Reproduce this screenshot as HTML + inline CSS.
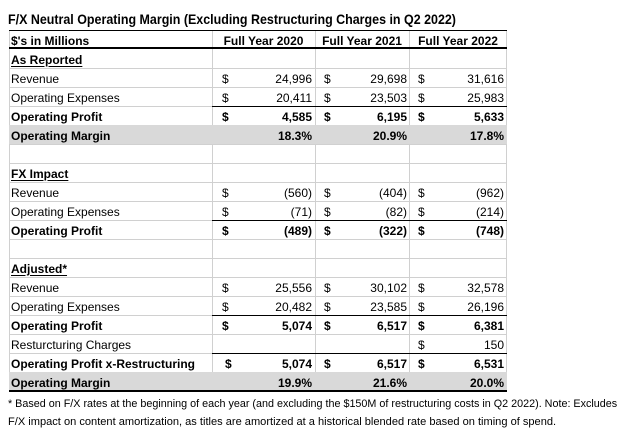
<!DOCTYPE html>
<html>
<head>
<meta charset="utf-8">
<style>
  html,body{margin:0;padding:0;}
  body{width:628px;height:442px;background:#fff;position:relative;overflow:hidden;
       font-family:"Liberation Sans",Arial,sans-serif;color:#000;}
  .a{position:absolute;}
  .t{position:absolute;font-size:12px;line-height:19px;white-space:nowrap;}
  .b{font-weight:bold;}
  .u{text-decoration:underline;text-underline-offset:2px;}
  .hl{position:absolute;left:9px;width:498px;height:1px;background:#d0d0d0;}
  .vl{position:absolute;top:30px;width:1px;height:361px;background:#d0d0d0;}
  .gray{position:absolute;left:9px;width:498px;height:19px;background:#d9d9d9;}
  .blk{position:absolute;left:212px;width:295px;height:1px;background:#000;}
  .r1{right:316px;text-align:right;}
  .r2{right:221px;text-align:right;}
  .r3{right:124px;text-align:right;}
  .d1{left:222px;} .d2{left:324px;} .d3{left:418px;}
</style>
</head>
<body>

<!-- Title -->
<div class="a b" style="left:8px;top:11px;font-size:14px;line-height:16px;white-space:nowrap;transform:scaleX(0.89);transform-origin:0 0;">F/X Neutral Operating Margin (Excluding Restructuring Charges in Q2 2022)</div>

<!-- gridlines horizontal -->
<div class="hl" style="top:68px"></div>
<div class="hl" style="top:87px"></div>
<div class="hl" style="top:106px"></div>
<div class="hl" style="top:125px"></div>
<div class="hl" style="top:144px"></div>
<div class="hl" style="top:163px"></div>
<div class="hl" style="top:182px"></div>
<div class="hl" style="top:201px"></div>
<div class="hl" style="top:220px"></div>
<div class="hl" style="top:239px"></div>
<div class="hl" style="top:258px"></div>
<div class="hl" style="top:277px"></div>
<div class="hl" style="top:296px"></div>
<div class="hl" style="top:315px"></div>
<div class="hl" style="top:334px"></div>
<div class="hl" style="top:353px"></div>
<div class="hl" style="top:372px"></div>

<!-- gridlines vertical -->
<div class="vl" style="left:9px"></div>
<div class="vl" style="left:212px"></div>
<div class="vl" style="left:315px"></div>
<div class="vl" style="left:409px"></div>
<div class="vl" style="left:506px"></div>

<!-- gray rows -->
<div class="gray" style="top:125px"></div>
<div class="gray" style="top:372px"></div>

<!-- black lines -->
<div class="a" style="left:9px;top:30px;width:498px;height:1px;background:#000"></div>
<div class="a" style="left:9px;top:47px;width:498px;height:2px;background:#000"></div>
<div class="blk" style="top:106px"></div>
<div class="blk" style="top:220px"></div>
<div class="blk" style="top:315px"></div>
<div class="blk" style="top:353px"></div>
<div class="a" style="left:9px;top:390px;width:498px;height:2px;background:#000"></div>

<!-- Header -->
<div class="t b" style="left:11px;top:31.7px">$'s in Millions</div>
<div class="t b" style="left:212px;width:103px;text-align:center;top:31.7px">Full Year 2020</div>
<div class="t b" style="left:315px;width:94px;text-align:center;top:31.7px">Full Year 2021</div>
<div class="t b" style="left:409px;width:98px;text-align:center;top:31.7px">Full Year 2022</div>

<!-- As Reported -->
<div class="t b u" style="left:11px;top:50.7px">As Reported</div>

<div class="t" style="left:11px;top:69.7px">Revenue</div>
<div class="t d1" style="top:69.7px">$</div><div class="t r1" style="top:69.7px">24,996</div>
<div class="t d2" style="top:69.7px">$</div><div class="t r2" style="top:69.7px">29,698</div>
<div class="t d3" style="top:69.7px">$</div><div class="t r3" style="top:69.7px">31,616</div>

<div class="t" style="left:11px;top:88.7px">Operating Expenses</div>
<div class="t d1" style="top:88.7px">$</div><div class="t r1" style="top:88.7px">20,411</div>
<div class="t d2" style="top:88.7px">$</div><div class="t r2" style="top:88.7px">23,503</div>
<div class="t d3" style="top:88.7px">$</div><div class="t r3" style="top:88.7px">25,983</div>

<div class="t b" style="left:11px;top:107.7px">Operating Profit</div>
<div class="t b d1" style="top:107.7px">$</div><div class="t b r1" style="top:107.7px">4,585</div>
<div class="t b d2" style="top:107.7px">$</div><div class="t b r2" style="top:107.7px">6,195</div>
<div class="t b d3" style="top:107.7px">$</div><div class="t b r3" style="top:107.7px">5,633</div>

<div class="t b" style="left:11px;top:126.7px">Operating Margin</div>
<div class="t b r1" style="top:126.7px">18.3%</div>
<div class="t b r2" style="top:126.7px">20.9%</div>
<div class="t b r3" style="top:126.7px">17.8%</div>

<!-- FX Impact -->
<div class="t b u" style="left:11px;top:164.7px">FX Impact</div>

<div class="t" style="left:11px;top:183.7px">Revenue</div>
<div class="t d1" style="top:183.7px">$</div><div class="t r1" style="top:183.7px">(560)</div>
<div class="t d2" style="top:183.7px">$</div><div class="t r2" style="top:183.7px">(404)</div>
<div class="t d3" style="top:183.7px">$</div><div class="t r3" style="top:183.7px">(962)</div>

<div class="t" style="left:11px;top:202.7px">Operating Expenses</div>
<div class="t d1" style="top:202.7px">$</div><div class="t r1" style="top:202.7px">(71)</div>
<div class="t d2" style="top:202.7px">$</div><div class="t r2" style="top:202.7px">(82)</div>
<div class="t d3" style="top:202.7px">$</div><div class="t r3" style="top:202.7px">(214)</div>

<div class="t b" style="left:11px;top:221.7px">Operating Profit</div>
<div class="t b d1" style="top:221.7px">$</div><div class="t b r1" style="top:221.7px">(489)</div>
<div class="t b d2" style="top:221.7px">$</div><div class="t b r2" style="top:221.7px">(322)</div>
<div class="t b d3" style="top:221.7px">$</div><div class="t b r3" style="top:221.7px">(748)</div>

<!-- Adjusted -->
<div class="t b u" style="left:11px;top:259.7px">Adjusted*</div>

<div class="t" style="left:11px;top:278.7px">Revenue</div>
<div class="t d1" style="top:278.7px">$</div><div class="t r1" style="top:278.7px">25,556</div>
<div class="t d2" style="top:278.7px">$</div><div class="t r2" style="top:278.7px">30,102</div>
<div class="t d3" style="top:278.7px">$</div><div class="t r3" style="top:278.7px">32,578</div>

<div class="t" style="left:11px;top:297.7px">Operating Expenses</div>
<div class="t d1" style="top:297.7px">$</div><div class="t r1" style="top:297.7px">20,482</div>
<div class="t d2" style="top:297.7px">$</div><div class="t r2" style="top:297.7px">23,585</div>
<div class="t d3" style="top:297.7px">$</div><div class="t r3" style="top:297.7px">26,196</div>

<div class="t b" style="left:11px;top:316.7px">Operating Profit</div>
<div class="t b d1" style="top:316.7px">$</div><div class="t b r1" style="top:316.7px">5,074</div>
<div class="t b d2" style="top:316.7px">$</div><div class="t b r2" style="top:316.7px">6,517</div>
<div class="t b d3" style="top:316.7px">$</div><div class="t b r3" style="top:316.7px">6,381</div>

<div class="t" style="left:11px;top:335.7px">Resturcturing Charges</div>
<div class="t d3" style="top:335.7px">$</div><div class="t r3" style="top:335.7px">150</div>

<div class="t b" style="left:11px;top:354.7px">Operating Profit x-Restructuring</div>
<div class="t b" style="left:225px;top:354.7px">$</div><div class="t b r1" style="top:354.7px">5,074</div>
<div class="t b d2" style="top:354.7px">$</div><div class="t b r2" style="top:354.7px">6,517</div>
<div class="t b d3" style="top:354.7px">$</div><div class="t b r3" style="top:354.7px">6,531</div>

<div class="t b" style="left:11px;top:373.7px">Operating Margin</div>
<div class="t b r1" style="top:373.7px">19.9%</div>
<div class="t b r2" style="top:373.7px">21.6%</div>
<div class="t b r3" style="top:373.7px">20.0%</div>

<!-- Footnote -->
<div class="a" style="left:8px;top:397.3px;font-size:10.8px;line-height:15px;white-space:nowrap;transform:scaleX(0.998);transform-origin:0 0;">* Based on F/X rates at the beginning of each year (and excluding the $150M of restructuring costs in Q2 2022). Note: Excludes</div>
<div class="a" style="left:8px;top:415.3px;font-size:10.8px;line-height:15px;white-space:nowrap;transform:scaleX(1.025);transform-origin:0 0;">F/X impact on content amortization, as titles are amortized at a historical blended rate based on timing of spend.</div>

</body>
</html>
